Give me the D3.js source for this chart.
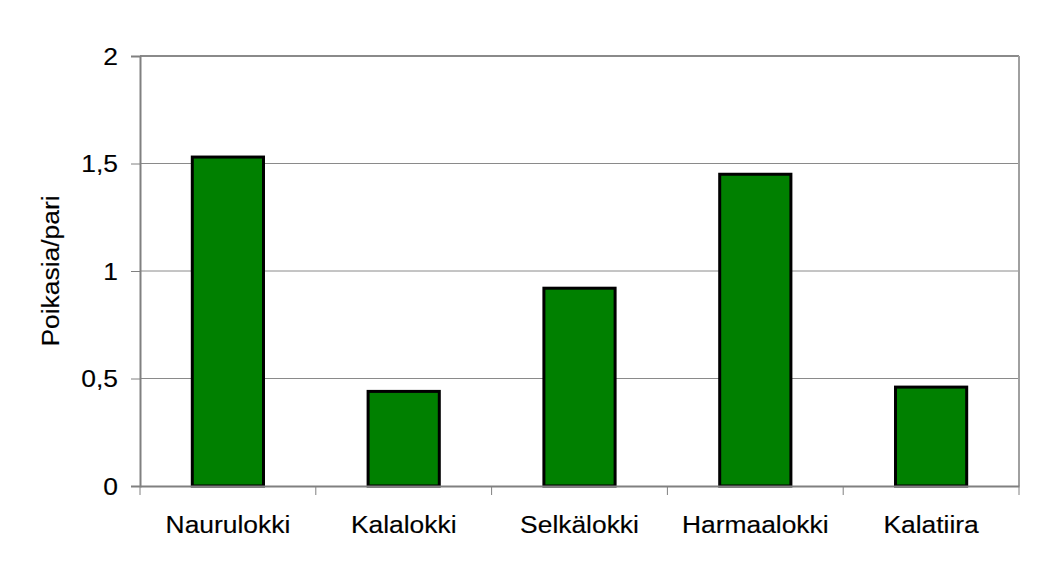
<!DOCTYPE html>
<html><head><meta charset="utf-8">
<script src="https://cdn.jsdelivr.net/npm/d3@7"></script>
<style>body{margin:0;background:#fff}svg{display:block}text{font-family:"Liberation Sans",Arial,sans-serif;fill:#000;stroke:#000;stroke-width:0.15px}</style>
</head><body>
<svg id="c" width="1051" height="581"></svg>
<script>
const categories = ["Naurulokki","Kalalokki","Selkälokki","Harmaalokki","Kalatiira"];
const values = [1.53, 0.44, 0.92, 1.45, 0.46];
const yTicks = [0, 0.5, 1, 1.5, 2];
const yTickLabels = ["0","0,5","1","1,5","2"];
const yTitle = "Poikasia/pari";

const svg = d3.select("#c");
const L = 140, R = 1019, T = 56, B = 486;
const FS = 24, SX = 1.1;
const x = d3.scaleBand().domain(categories).range([L, R]).paddingInner(0).paddingOuter(0);
const y = d3.scaleLinear().domain([0, 2]).range([B, T]);

// gridlines
svg.append("g").selectAll("line").data(yTicks.filter(d => d > 0)).join("line")
  .attr("x1", L).attr("x2", R).attr("y1", d => y(d)).attr("y2", d => y(d))
  .attr("stroke", "#8a8a8a").attr("stroke-width", d => d === 2 ? 2 : 1);
// right border
svg.append("line").attr("x1", R).attr("x2", R).attr("y1", T).attr("y2", B)
  .attr("stroke", "#a0a0a0").attr("stroke-width", 2);

// bars
const bw = x.bandwidth() * 0.405;
svg.append("g").selectAll("rect").data(categories).join("rect")
  .attr("x", d => x(d) + x.bandwidth() / 2 - bw / 2)
  .attr("width", bw)
  .attr("y", (d, i) => y(values[i]))
  .attr("height", (d, i) => y(0) - y(values[i]))
  .attr("fill", "#008000").attr("stroke", "#000").attr("stroke-width", 3);

// y axis
const ya = svg.append("g").attr("transform", `translate(${L},0)`)
  .call(d3.axisLeft(y).tickValues(yTicks).tickFormat(() => "").tickSize(9));
ya.select(".domain").attr("stroke", "#808080").attr("stroke-width", 2);
ya.selectAll(".tick line").attr("stroke", "#808080");
ya.selectAll(".tick text").remove();
svg.append("g").selectAll("text").data(yTicks).join("text")
  .attr("transform", d => `translate(118,${y(d) + 8.5}) scale(${SX},1)`)
  .attr("text-anchor", "end").style("font-size", FS + "px")
  .text((d, i) => yTickLabels[i]);

// x axis
const xa = svg.append("g").attr("transform", `translate(0,${B})`)
  .call(d3.axisBottom(x).tickSize(0).tickFormat(() => ""));
xa.select(".domain").attr("stroke", "#808080").attr("stroke-width", 2);
xa.selectAll(".tick text").remove();
const bounds = categories.map(d => x(d)).concat([R]);
xa.selectAll(".bt").data(bounds).join("line").attr("class", "bt")
  .attr("x1", d => d).attr("x2", d => d).attr("y1", 0).attr("y2", 9)
  .attr("stroke", "#808080");
svg.append("g").selectAll("text").data(categories).join("text")
  .attr("transform", d => `translate(${x(d) + x.bandwidth() / 2},533) scale(${SX},1)`)
  .attr("text-anchor", "middle").style("font-size", FS + "px")
  .text(d => d);

// y title
svg.append("text").attr("transform", `translate(59,${(T + B) / 2}) rotate(-90) scale(${SX},1)`)
  .attr("text-anchor", "middle").style("font-size", FS + "px").text(yTitle);
</script>
</body></html>
